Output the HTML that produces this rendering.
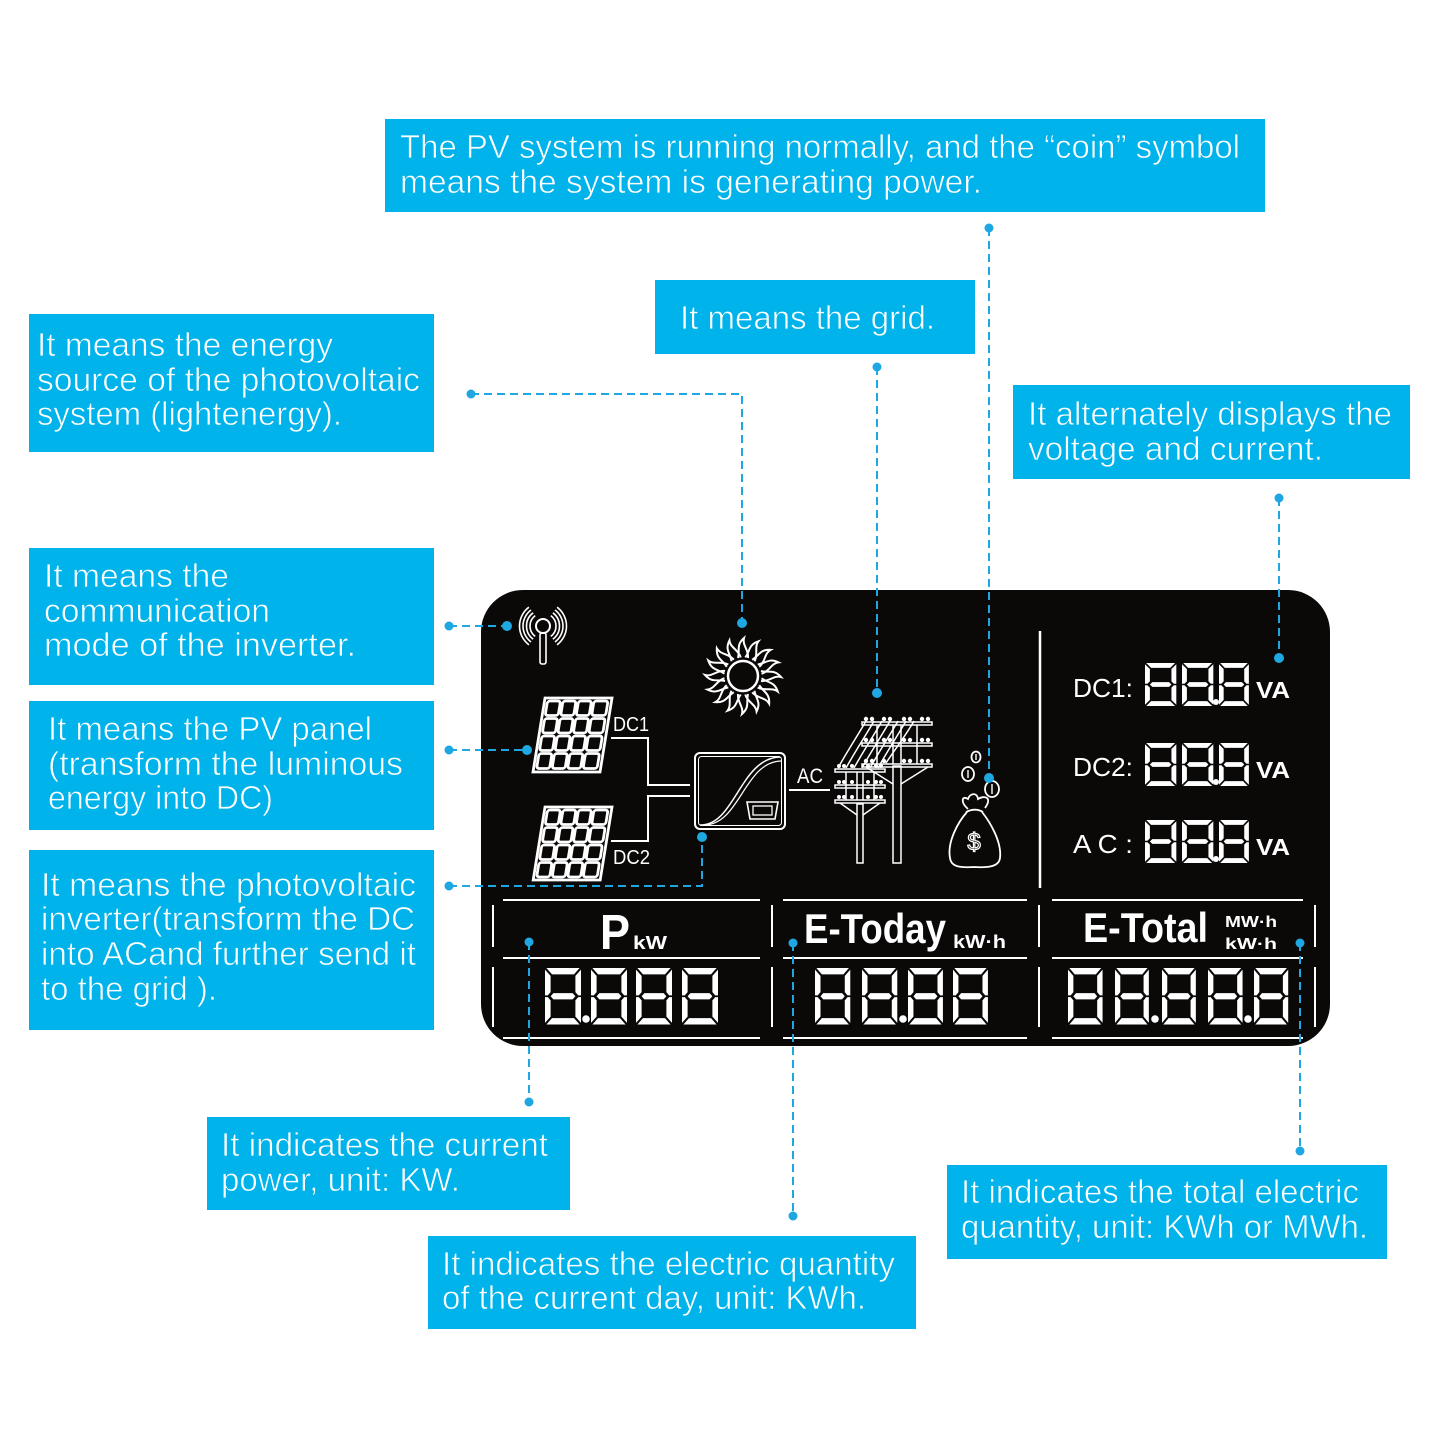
<!DOCTYPE html>
<html><head><meta charset="utf-8"><style>
html,body{margin:0;padding:0;background:#fff;}
svg{display:block;}
.lb{font-family:"Liberation Sans",sans-serif;font-size:33px;fill:#fff;stroke:#00b3ea;stroke-width:0.7px;}
</style></head><body>
<svg width="1445" height="1445" viewBox="0 0 1445 1445" xmlns="http://www.w3.org/2000/svg">
<defs>
<path id="ray" d="M-5,-18 C-3,-26 -7,-31 1,-38 C-1,-31 6,-26 5,-18" fill="none" stroke="#fff" stroke-width="2"/>
<path id="dg" d="M1.4,0 L34.6,0 L29,5.6 L7,5.6 Z M5.6,25 L8.4,22.2 L27.6,22.2 L30.4,25 L27.6,27.8 L8.4,27.8 Z M1.4,50 L34.6,50 L29,44.4 L7,44.4 Z M0,1.4 L5.6,7 L5.6,21.4 L2.8,24.2 L0,24.2 Z M36,1.4 L30.4,7 L30.4,21.4 L33.2,24.2 L36,24.2 Z M0,25.8 L2.8,25.8 L5.6,28.6 L5.6,43 L0,48.6 Z M36,25.8 L33.2,25.8 L30.4,28.6 L30.4,43 L36,48.6 Z" fill="#fff"/>
</defs>
<rect width="1445" height="1445" fill="#fff"/>

<!-- blue label boxes -->
<g fill="#00b3ea">
<rect x="385" y="119" width="880" height="93"/>
<rect x="655" y="280" width="320" height="74"/>
<rect x="29" y="314" width="405" height="138"/>
<rect x="1013" y="385" width="397" height="94"/>
<rect x="29" y="548" width="405" height="137"/>
<rect x="29" y="701" width="405" height="129"/>
<rect x="29" y="850" width="405" height="180"/>
<rect x="207" y="1117" width="363" height="93"/>
<rect x="428" y="1236" width="488" height="93"/>
<rect x="947" y="1165" width="440" height="94"/>
</g>
<g class="lb">
<text x="400" y="158" textLength="840" lengthAdjust="spacingAndGlyphs">The PV system is running normally, and the “coin” symbol</text>
<text x="400" y="193" textLength="582" lengthAdjust="spacingAndGlyphs">means the system is generating power.</text>
<text x="680" y="329" textLength="255" lengthAdjust="spacingAndGlyphs">It means the grid.</text>
<text x="37" y="356" textLength="296" lengthAdjust="spacingAndGlyphs">It means the energy</text>
<text x="37" y="391" textLength="383" lengthAdjust="spacingAndGlyphs">source of the photovoltaic</text>
<text x="37" y="425" textLength="305" lengthAdjust="spacingAndGlyphs">system (lightenergy).</text>
<text x="1028" y="425" textLength="364" lengthAdjust="spacingAndGlyphs">It alternately displays the</text>
<text x="1028" y="460" textLength="295" lengthAdjust="spacingAndGlyphs">voltage and current.</text>
<text x="44" y="587" textLength="185" lengthAdjust="spacingAndGlyphs">It means the</text>
<text x="44" y="622" textLength="226" lengthAdjust="spacingAndGlyphs">communication</text>
<text x="44" y="656" textLength="312" lengthAdjust="spacingAndGlyphs">mode of the inverter.</text>
<text x="48" y="740" textLength="324" lengthAdjust="spacingAndGlyphs">It means the PV panel</text>
<text x="48" y="775" textLength="355" lengthAdjust="spacingAndGlyphs">(transform the luminous</text>
<text x="48" y="809" textLength="225" lengthAdjust="spacingAndGlyphs">energy into DC)</text>
<text x="41" y="896" textLength="375" lengthAdjust="spacingAndGlyphs">It means the photovoltaic</text>
<text x="41" y="930" textLength="374" lengthAdjust="spacingAndGlyphs">inverter(transform the DC</text>
<text x="41" y="965" textLength="375" lengthAdjust="spacingAndGlyphs">into ACand further send it</text>
<text x="41" y="1000" textLength="176" lengthAdjust="spacingAndGlyphs">to the grid ).</text>
<text x="221" y="1156" textLength="327" lengthAdjust="spacingAndGlyphs">It indicates the current</text>
<text x="221" y="1191" textLength="239" lengthAdjust="spacingAndGlyphs">power, unit: KW.</text>
<text x="442" y="1275" textLength="453" lengthAdjust="spacingAndGlyphs">It indicates the electric quantity</text>
<text x="442" y="1309" textLength="424" lengthAdjust="spacingAndGlyphs">of the current day, unit: KWh.</text>
<text x="961" y="1203" textLength="398" lengthAdjust="spacingAndGlyphs">It indicates the total electric</text>
<text x="961" y="1238" textLength="407" lengthAdjust="spacingAndGlyphs">quantity, unit: KWh or MWh.</text>
</g>

<!-- LCD panel -->
<rect x="481" y="590" width="849" height="456" rx="42" fill="#0b0808"/>

<!-- antenna -->
<g stroke="#fff" fill="none" stroke-width="1.6">
<circle cx="543" cy="626" r="7" stroke-width="2"/>
<rect x="540" y="633" width="6" height="31" rx="2"/>
<path d="M535.2,615.6 A13,13 0 0 0 535.2,636.4 M533.1,612.8 A16.5,16.5 0 0 0 533.1,639.2 M531,610 A20,20 0 0 0 531,642 M528.9,607.2 A23.5,23.5 0 0 0 528.9,644.8"/>
<path d="M550.8,615.6 A13,13 0 0 1 550.8,636.4 M552.9,612.8 A16.5,16.5 0 0 1 552.9,639.2 M555,610 A20,20 0 0 1 555,642 M557.1,607.2 A23.5,23.5 0 0 1 557.1,644.8"/>
</g>

<!-- sun -->
<g transform="translate(743,676)">
<circle r="15" fill="none" stroke="#fff" stroke-width="2.5"/>
<use href="#ray" transform="rotate(0)"/><use href="#ray" transform="rotate(22.5)"/><use href="#ray" transform="rotate(45)"/><use href="#ray" transform="rotate(67.5)"/>
<use href="#ray" transform="rotate(90)"/><use href="#ray" transform="rotate(112.5)"/><use href="#ray" transform="rotate(135)"/><use href="#ray" transform="rotate(157.5)"/>
<use href="#ray" transform="rotate(180)"/><use href="#ray" transform="rotate(202.5)"/><use href="#ray" transform="rotate(225)"/><use href="#ray" transform="rotate(247.5)"/>
<use href="#ray" transform="rotate(270)"/><use href="#ray" transform="rotate(292.5)"/><use href="#ray" transform="rotate(315)"/><use href="#ray" transform="rotate(337.5)"/>
</g>

<!-- solar panels -->
<g transform="translate(545,698) skewX(-9.2)" fill="none" stroke="#fff">
<rect x="0" y="0" width="67" height="74" stroke-width="2.8"/>
<g stroke-width="2.8">
<rect x="3" y="3" width="13" height="14.5" rx="2.5"/><rect x="18.5" y="3" width="13" height="14.5" rx="2.5"/><rect x="34" y="3" width="13" height="14.5" rx="2.5"/><rect x="49.5" y="3" width="14" height="14.5" rx="2.5"/>
<rect x="3" y="20.5" width="13" height="14.5" rx="2.5"/><rect x="18.5" y="20.5" width="13" height="14.5" rx="2.5"/><rect x="34" y="20.5" width="13" height="14.5" rx="2.5"/><rect x="49.5" y="20.5" width="14" height="14.5" rx="2.5"/>
<rect x="3" y="38" width="13" height="14.5" rx="2.5"/><rect x="18.5" y="38" width="13" height="14.5" rx="2.5"/><rect x="34" y="38" width="13" height="14.5" rx="2.5"/><rect x="49.5" y="38" width="14" height="14.5" rx="2.5"/>
<rect x="3" y="55.5" width="13" height="15" rx="2.5"/><rect x="18.5" y="55.5" width="13" height="15" rx="2.5"/><rect x="34" y="55.5" width="13" height="15" rx="2.5"/><rect x="49.5" y="55.5" width="14" height="15" rx="2.5"/>
</g>
</g>
<g transform="translate(545,807) skewX(-9.2)" fill="none" stroke="#fff">
<rect x="0" y="0" width="67" height="73" stroke-width="2.8"/>
<g stroke-width="2.8">
<rect x="3" y="3" width="13" height="14.5" rx="2.5"/><rect x="18.5" y="3" width="13" height="14.5" rx="2.5"/><rect x="34" y="3" width="13" height="14.5" rx="2.5"/><rect x="49.5" y="3" width="14" height="14.5" rx="2.5"/>
<rect x="3" y="20.5" width="13" height="14.5" rx="2.5"/><rect x="18.5" y="20.5" width="13" height="14.5" rx="2.5"/><rect x="34" y="20.5" width="13" height="14.5" rx="2.5"/><rect x="49.5" y="20.5" width="14" height="14.5" rx="2.5"/>
<rect x="3" y="38" width="13" height="14.5" rx="2.5"/><rect x="18.5" y="38" width="13" height="14.5" rx="2.5"/><rect x="34" y="38" width="13" height="14.5" rx="2.5"/><rect x="49.5" y="38" width="14" height="14.5" rx="2.5"/>
<rect x="3" y="55.5" width="13" height="14.5" rx="2.5"/><rect x="18.5" y="55.5" width="13" height="14.5" rx="2.5"/><rect x="34" y="55.5" width="13" height="14.5" rx="2.5"/><rect x="49.5" y="55.5" width="14" height="14.5" rx="2.5"/>
</g>
</g>

<!-- wiring -->
<g stroke="#fff" stroke-width="2" fill="none">
<path d="M611,738 H648 V785 H690"/>
<path d="M611,841 H648 V796 H690"/>
<path d="M789,790 H830"/>
</g>
<g font-family="Liberation Sans, sans-serif" fill="#fff">
<text x="613" y="731" font-size="20" textLength="36" lengthAdjust="spacingAndGlyphs">DC1</text>
<text x="613" y="864" font-size="20" textLength="37" lengthAdjust="spacingAndGlyphs">DC2</text>
<text x="797" y="783" font-size="21" textLength="26" lengthAdjust="spacingAndGlyphs">AC</text>
</g>

<!-- inverter -->
<g stroke="#fff" fill="none">
<rect x="695" y="753" width="90" height="76" rx="5" stroke-width="2"/>
<rect x="698.5" y="756.5" width="83" height="69" rx="3" stroke-width="1"/>
<path d="M700,825 C735,826 740,758 780,757" stroke-width="1.5"/>
<path d="M704,825 C740,825 744,762 781,761" stroke-width="1.2"/>
<path d="M747,802 H778 L775,819 H750 Z" stroke-width="1.6"/>
<rect x="753" y="806" width="19" height="9" stroke-width="1.3"/>
</g>

<!-- power poles -->
<g stroke="#fff" fill="none" stroke-width="1.5">
<rect x="893" y="766" width="8" height="97"/>
<rect x="862" y="722" width="70" height="3"/>
<rect x="862" y="743" width="70" height="3"/>
<rect x="862" y="764" width="70" height="3"/>
<path d="M877,725 V764 M917,725 V764 M893,725 V764 M901,725 V764"/>
<path d="M866,767 L893,784 M928,767 L901,784"/>
<rect x="857" y="804" width="6" height="59"/>
<rect x="835" y="769" width="50" height="3"/>
<rect x="835" y="785" width="50" height="3"/>
<rect x="835" y="800" width="50" height="3"/>
<path d="M846,772 V800 M874,772 V800 M857,772 V800 M863,772 V800"/>
<path d="M840,803 L857,815 M880,803 L863,815"/>
<path d="M838,768 C848,750 858,735 866,721 M846,768 C856,750 866,735 874,721 M854,768 C864,750 874,735 882,721 M862,768 C872,750 882,735 890,721 M870,768 C880,750 890,735 898,721 M878,768 C888,750 898,735 906,721 M886,763 C896,748 906,735 914,721"/>
</g>
<g fill="#fff">
<circle cx="866" cy="719" r="2.2"/><circle cx="872" cy="719" r="2.2"/><circle cx="884" cy="719" r="2.2"/><circle cx="890" cy="719" r="2.2"/><circle cx="904" cy="719" r="2.2"/><circle cx="910" cy="719" r="2.2"/><circle cx="922" cy="719" r="2.2"/><circle cx="928" cy="719" r="2.2"/>
<circle cx="866" cy="740" r="2.2"/><circle cx="872" cy="740" r="2.2"/><circle cx="884" cy="740" r="2.2"/><circle cx="890" cy="740" r="2.2"/><circle cx="904" cy="740" r="2.2"/><circle cx="910" cy="740" r="2.2"/><circle cx="922" cy="740" r="2.2"/><circle cx="928" cy="740" r="2.2"/>
<circle cx="866" cy="761" r="2.2"/><circle cx="872" cy="761" r="2.2"/><circle cx="884" cy="761" r="2.2"/><circle cx="904" cy="761" r="2.2"/><circle cx="910" cy="761" r="2.2"/><circle cx="922" cy="761" r="2.2"/><circle cx="928" cy="761" r="2.2"/>
<circle cx="839" cy="766" r="2"/><circle cx="844" cy="766" r="2"/><circle cx="852" cy="766" r="2"/><circle cx="868" cy="766" r="2"/><circle cx="876" cy="766" r="2"/><circle cx="881" cy="766" r="2"/>
<circle cx="839" cy="782" r="2"/><circle cx="844" cy="782" r="2"/><circle cx="852" cy="782" r="2"/><circle cx="868" cy="782" r="2"/><circle cx="876" cy="782" r="2"/><circle cx="881" cy="782" r="2"/>
<circle cx="839" cy="797" r="2"/><circle cx="844" cy="797" r="2"/><circle cx="852" cy="797" r="2"/><circle cx="868" cy="797" r="2"/><circle cx="876" cy="797" r="2"/><circle cx="881" cy="797" r="2"/>
</g>

<!-- money bag & coins -->
<g stroke="#fff" fill="none" stroke-width="1.8">
<ellipse cx="976" cy="757" rx="4.5" ry="5.5"/>
<ellipse cx="968" cy="774" rx="6" ry="7"/>
<ellipse cx="992" cy="789" rx="7" ry="8"/>
<path d="M976,754 V760 M968,770 V778 M992,784 V794" stroke-width="1.4"/>
<path d="M967,812 C958,822 947,842 950,858 C951,866 958,868 974,867 C990,868 999,866 1000,858 C1002,842 990,822 982,812"/>
<path d="M966,812 C972,809 978,809 983,812"/>
<path d="M968,809 C960,802 962,795 968,799 C970,793 977,792 978,799 C984,795 993,797 985,808"/>
</g>
<text x="974" y="850" font-family="Liberation Sans, sans-serif" font-size="24" fill="none" stroke="#fff" stroke-width="1.2" text-anchor="middle">$</text>

<!-- divider -->
<path d="M1040,631 V888" stroke="#fff" stroke-width="2.5"/>

<!-- right readouts -->
<g font-family="Liberation Sans, sans-serif" fill="#fff">
<text x="1073" y="697" font-size="26" textLength="60" lengthAdjust="spacingAndGlyphs">DC1:</text>
<text x="1073" y="776" font-size="26" textLength="60" lengthAdjust="spacingAndGlyphs">DC2:</text>
<text x="1073" y="853" font-size="26" textLength="60" lengthAdjust="spacingAndGlyphs">A C :</text>
<text x="1256" y="698" font-size="23" font-weight="bold" textLength="34" lengthAdjust="spacingAndGlyphs">VA</text>
<text x="1256" y="778" font-size="23" font-weight="bold" textLength="34" lengthAdjust="spacingAndGlyphs">VA</text>
<text x="1256" y="855" font-size="23" font-weight="bold" textLength="34" lengthAdjust="spacingAndGlyphs">VA</text>
</g>
<g>
<title>88.8</title>
<use href="#dg" transform="translate(1145,663) scale(0.87,0.86)"/>
<use href="#dg" transform="translate(1182,663) scale(0.87,0.86)"/>
<circle cx="1216" cy="702" r="3" fill="#fff"/>
<use href="#dg" transform="translate(1219,663) scale(0.83,0.86)"/>
<use href="#dg" transform="translate(1145,743) scale(0.87,0.86)"/>
<use href="#dg" transform="translate(1182,743) scale(0.87,0.86)"/>
<circle cx="1216" cy="782" r="3" fill="#fff"/>
<use href="#dg" transform="translate(1219,743) scale(0.83,0.86)"/>
<use href="#dg" transform="translate(1145,820) scale(0.87,0.86)"/>
<use href="#dg" transform="translate(1182,820) scale(0.87,0.86)"/>
<circle cx="1216" cy="859" r="3" fill="#fff"/>
<use href="#dg" transform="translate(1219,820) scale(0.83,0.86)"/>
</g>

<!-- bottom frames -->
<g stroke="#fff" stroke-width="2" fill="none">
<path d="M503,900 H760 M783,900 H1027 M1052,900 H1303"/>
<path d="M503,958 H760 M783,958 H1027 M1052,958 H1303"/>
<path d="M503,1038 H760 M783,1038 H1027 M1052,1038 H1303"/>
<path d="M493,905 V947 M493,967 V1027 M772,905 V947 M772,967 V1027 M1039,905 V947 M1039,967 V1027 M1315,905 V947 M1315,967 V1027"/>
</g>
<g font-family="Liberation Sans, sans-serif" fill="#fff">
<text x="600" y="949" font-size="49" font-weight="bold" textLength="30" lengthAdjust="spacingAndGlyphs">P</text>
<text x="633" y="949" font-size="18" font-weight="bold" textLength="34" lengthAdjust="spacingAndGlyphs">kW</text>
<text x="804" y="943" font-size="42" font-weight="bold" textLength="142" lengthAdjust="spacingAndGlyphs">E-Today</text>
<text x="953" y="948" font-size="18" font-weight="bold" textLength="53" lengthAdjust="spacingAndGlyphs">kW·h</text>
<text x="1083" y="942" font-size="42" font-weight="bold" textLength="125" lengthAdjust="spacingAndGlyphs">E-Total</text>
<text x="1225" y="927" font-size="16" font-weight="bold" textLength="52" lengthAdjust="spacingAndGlyphs">MW·h</text>
<text x="1225" y="949" font-size="16" font-weight="bold" textLength="52" lengthAdjust="spacingAndGlyphs">kW·h</text>
</g>
<g>
<title>8.888 88.88 88.888</title>
<use href="#dg" transform="translate(545,968) scale(1.0,1.13)"/>
<circle cx="586" cy="1019" r="3.8" fill="#fff"/>
<use href="#dg" transform="translate(591,968) scale(1.0,1.13)"/>
<use href="#dg" transform="translate(636,968) scale(1.0,1.13)"/>
<use href="#dg" transform="translate(682,968) scale(1.0,1.13)"/>

<use href="#dg" transform="translate(815,968) scale(0.98,1.13)"/>
<use href="#dg" transform="translate(862,968) scale(0.98,1.13)"/>
<circle cx="903" cy="1019" r="3.8" fill="#fff"/>
<use href="#dg" transform="translate(908,968) scale(0.97,1.13)"/>
<use href="#dg" transform="translate(953,968) scale(0.97,1.13)"/>

<use href="#dg" transform="translate(1068,968) scale(0.96,1.13)"/>
<use href="#dg" transform="translate(1115,968) scale(0.94,1.13)"/>
<circle cx="1155" cy="1019" r="3.8" fill="#fff"/>
<use href="#dg" transform="translate(1162,968) scale(0.94,1.13)"/>
<use href="#dg" transform="translate(1208,968) scale(0.96,1.13)"/>
<circle cx="1248" cy="1019" r="3.8" fill="#fff"/>
<use href="#dg" transform="translate(1254,968) scale(0.95,1.13)"/>
</g>

<!-- connectors -->
<g stroke="#1ea7e0" stroke-width="2" stroke-dasharray="8 5" fill="none">
<path d="M989,228 V778"/>
<path d="M877,367 V693"/>
<path d="M471,394 H742 V623"/>
<path d="M1279,498 V658"/>
<path d="M449,626 H507"/>
<path d="M449,750 H527"/>
<path d="M449,886 H702 V837"/>
<path d="M529,942 V1102"/>
<path d="M793,943 V1216"/>
<path d="M1300,943 V1151"/>
</g>
<g fill="#1ea7e0">
<circle cx="989" cy="228" r="4.5"/><circle cx="989" cy="778" r="5"/>
<circle cx="877" cy="367" r="4.5"/><circle cx="877" cy="693" r="5"/>
<circle cx="471" cy="394" r="4.5"/><circle cx="742" cy="623" r="5"/>
<circle cx="1279" cy="498" r="4.5"/><circle cx="1279" cy="658" r="5"/>
<circle cx="449" cy="626" r="4.5"/><circle cx="507" cy="626" r="5"/>
<circle cx="449" cy="750" r="4.5"/><circle cx="527" cy="750" r="5"/>
<circle cx="449" cy="886" r="4.5"/><circle cx="702" cy="837" r="5"/>
<circle cx="529" cy="942" r="4.5"/><circle cx="529" cy="1102" r="4.5"/>
<circle cx="793" cy="943" r="4.5"/><circle cx="793" cy="1216" r="4.5"/>
<circle cx="1300" cy="943" r="4.5"/><circle cx="1300" cy="1151" r="4.5"/>
</g>
</svg>
</body></html>
